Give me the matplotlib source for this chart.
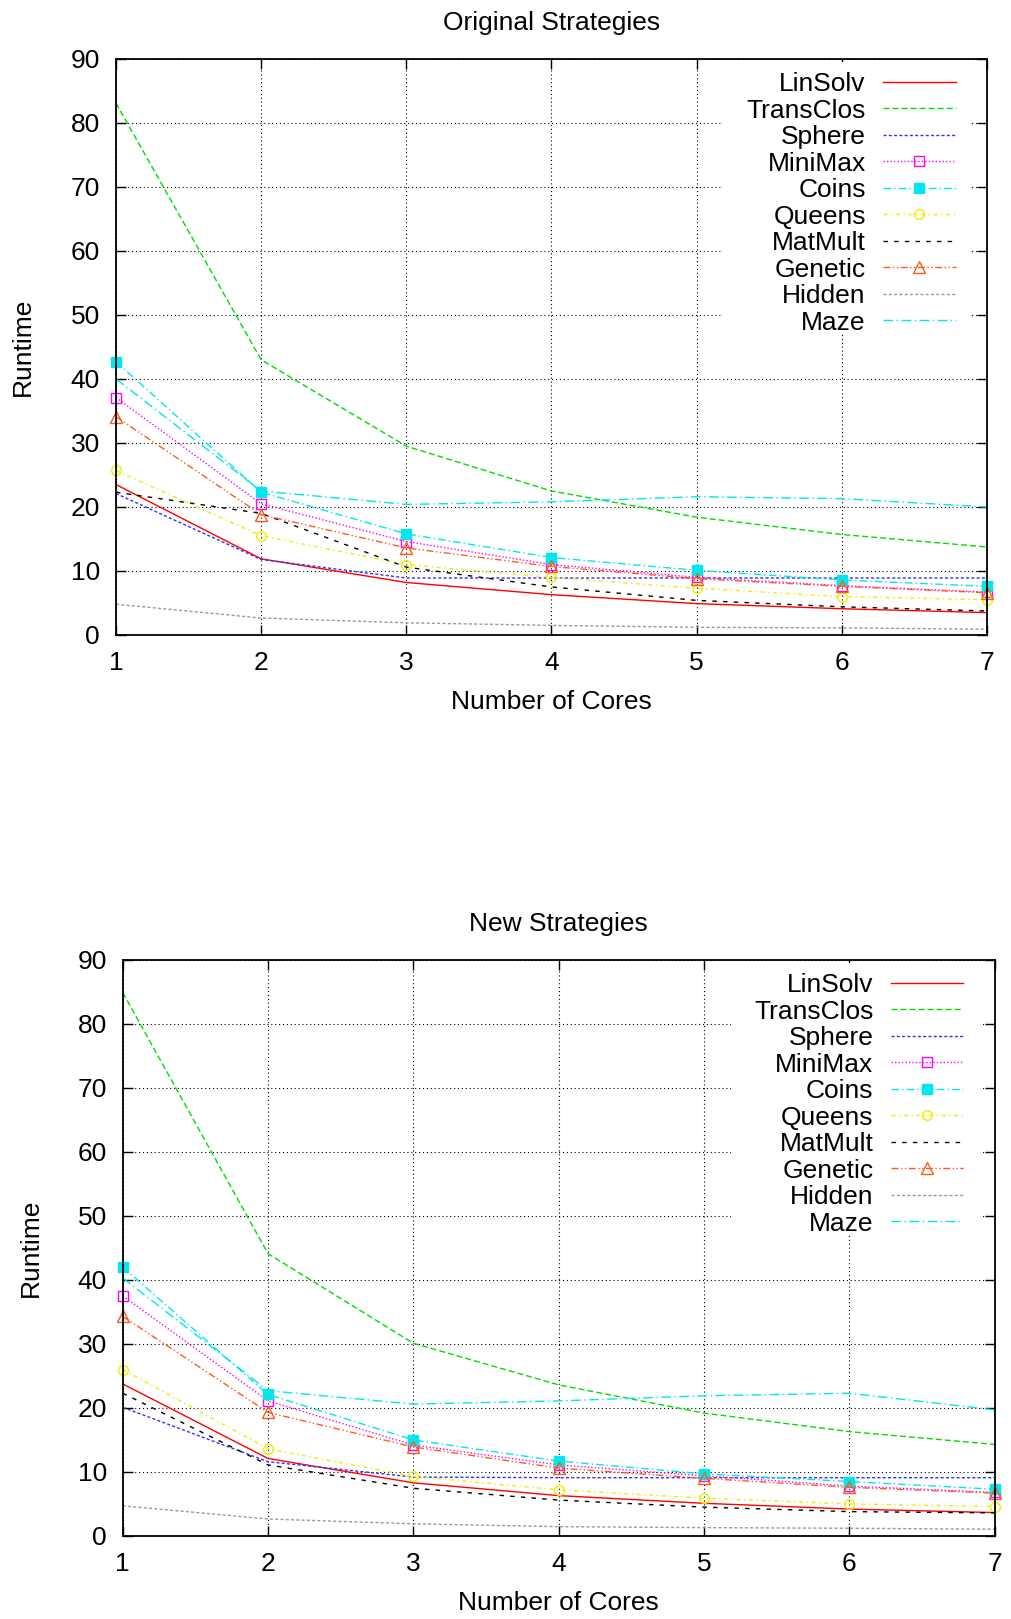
import matplotlib.pyplot as plt
from matplotlib.patches import Rectangle

plt.rcParams['font.family'] = ['Liberation Sans', 'DejaVu Sans']

# x axis: number of cores
cores = [1, 2, 3, 4, 5, 6, 7]
y_ticks = [0, 10, 20, 30, 40, 50, 60, 70, 80, 90]
names = ["LinSolv", "TransClos", "Sphere", "MiniMax", "Coins",
         "Queens", "MatMult", "Genetic", "Hidden", "Maze"]

# runtimes, original strategies
orig_linsolv = [23.5, 11.9, 8.2, 6.3, 4.9, 4.1, 3.5]
orig_transclos = [83.1, 43.0, 29.5, 22.5, 18.4, 15.7, 13.75]
orig_sphere = [22.1, 11.8, 8.9, 8.9, 8.9, 8.9, 8.9]
orig_minimax = [37.1, 20.5, 14.6, 11.0, 9.0, 7.7, 6.7]
orig_coins = [42.7, 22.3, 15.8, 12.1, 10.1, 8.6, 7.6]
orig_queens = [25.7, 15.5, 11.0, 9.0, 7.3, 6.0, 5.5]
orig_matmult = [22.3, 19.0, 10.6, 7.5, 5.4, 4.4, 3.75]
orig_genetic = [34.1, 18.8, 13.6, 10.7, 8.8, 7.6, 6.6]
orig_hidden = [4.8, 2.65, 1.9, 1.5, 1.2, 1.1, 0.9]
orig_maze = [40.0, 22.5, 20.4, 20.8, 21.6, 21.3, 20.0]

# runtimes, new strategies
new_linsolv = [23.75, 12.1, 8.3, 6.3, 5.1, 4.2, 3.65]
new_transclos = [84.9, 44.1, 30.1, 23.6, 19.2, 16.3, 14.3]
new_sphere = [20.1, 11.6, 9.2, 9.1, 9.1, 9.1, 9.1]
new_minimax = [37.5, 21.1, 14.2, 11.1, 9.4, 7.8, 6.8]
new_coins = [42.0, 22.1, 15.0, 11.7, 9.7, 8.5, 7.3]
new_queens = [26.0, 13.6, 9.3, 7.2, 5.9, 5.0, 4.6]
new_matmult = [22.3, 11.1, 7.45, 5.6, 4.5, 3.8, 3.6]
new_genetic = [34.3, 19.3, 13.9, 10.6, 9.0, 7.6, 6.7]
new_hidden = [4.7, 2.65, 1.9, 1.45, 1.3, 1.2, 1.05]
new_maze = [40.3, 22.7, 20.6, 21.1, 21.9, 22.3, 19.7]

original = [orig_linsolv, orig_transclos, orig_sphere, orig_minimax, orig_coins,
            orig_queens, orig_matmult, orig_genetic, orig_hidden, orig_maze]
new = [new_linsolv, new_transclos, new_sphere, new_minimax, new_coins,
       new_queens, new_matmult, new_genetic, new_hidden, new_maze]

# gnuplot-like styles: color, dashes, marker, filled
styles = [
    ("#ff0000", None, None, False),
    ("#00dd00", (4.3, 2.2), None, False),
    ("#3030ff", (2.2, 1.6), None, False),
    ("#ff00ff", (1, 1.5), "s", False),
    ("#00e8ee", (5.5, 2.2, 1, 2.2), "s", True),
    ("#eeee00", (3, 2.5, 1, 2.5), "o", False),
    ("#000000", (3.2, 4.5), None, False),
    ("#ff5a1e", (5, 1.8, 1, 1.8, 1, 1.8), "^", False),
    ("#999999", (2.2, 1.6), None, False),
    ("#00e8ee", (7, 2.5, 1, 2.5), None, False),
]


def draw(ax, series, title):
    for name, vals, (col, dash, mk, filled) in zip(names, series, styles):
        kw = dict(color=col, lw=1.0, clip_on=False)
        if dash:
            kw["dashes"] = dash
        ax.plot(cores, vals, **kw)
        if mk:
            ax.plot(cores, vals, ls="none", marker=mk, ms=7 if mk != "^" else 8,
                    mfc=col if filled else "none", mec=col, mew=1.0, clip_on=False)

    # white key box hides the grid behind the legend
    ax.add_patch(Rectangle((0.697, 0.523), 0.286, 0.472, transform=ax.transAxes,
                           facecolor="white", edgecolor="none", zorder=1))

    # legend, text right aligned with sample lines on the right
    for i, (name, (col, dash, mk, filled)) in enumerate(zip(names, styles)):
        y = 0.9606 - i * 0.046
        ax.text(0.861, y, name, transform=ax.transAxes, ha="right",
                va="center_baseline", fontsize=19)
        kw = dict(color=col, lw=1.0, transform=ax.transAxes)
        if dash:
            kw["dashes"] = dash
        ax.plot([0.8805, 0.964], [y, y], **kw)
        if mk:
            ax.plot([0.9222], [y], marker=mk, ms=7 if mk != "^" else 8,
                    mfc=col if filled else "none", mec=col, mew=1.0,
                    transform=ax.transAxes)

    ax.set_xlim(1, 7)
    ax.set_ylim(0, 90)
    ax.set_xticks(cores)
    ax.set_yticks(y_ticks)
    ax.grid(True, color="black", linestyle=(0, (1, 2.5)), lw=0.8)
    ax.set_axisbelow(True)
    ax.tick_params(direction="in", top=True, right=True, length=7, width=1,
                   labelsize=19, pad=11.5)
    for s in ax.spines.values():
        s.set_linewidth(1.3)

    ax.set_title(title, fontsize=19, y=1.05, pad=0)
    ax.set_xlabel("Number of Cores", fontsize=19, va="baseline")
    ax.xaxis.set_label_coords(0.5, -0.129)
    ax.set_ylabel("Runtime", fontsize=19, va="center")
    ax.yaxis.label.set_va("center")


fig = plt.figure(figsize=(10.11, 16.19), dpi=100)
ax1 = fig.add_axes([0.1147, 0.6078, 0.8615, 0.3558])
ax2 = fig.add_axes([0.1214, 0.0513, 0.8625, 0.3558])

draw(ax1, original, "Original Strategies")
draw(ax2, new, "New Strategies")
ax1.yaxis.set_label_coords((23 - 116) / 871, 0.5)
ax2.yaxis.set_label_coords((30.5 - 122.7) / 872, 0.5)

fig.savefig("out.png", dpi=100)
